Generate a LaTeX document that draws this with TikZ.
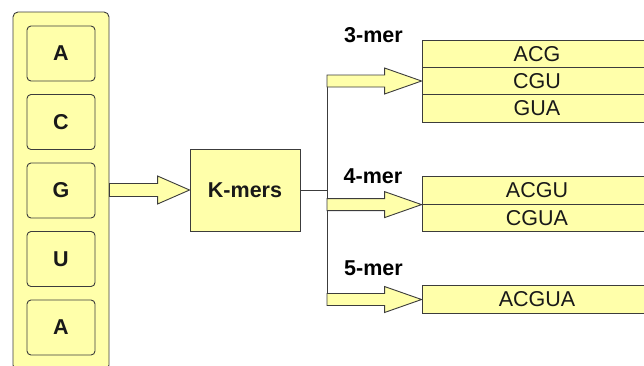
\documentclass[tikz,border=0pt]{standalone}
\usepackage{fontspec}
\setmainfont{Liberation Sans}
\usetikzlibrary{calc}
\definecolor{boxfill}{RGB}{255,255,170}
\definecolor{boxline}{RGB}{60,60,60}
\definecolor{txt}{RGB}{25,25,25}
\tikzset{
  base/.style={draw=boxline, fill=boxfill, line width=0.9pt, inner sep=0pt, text=txt,
    font=\fontsize{21.5}{24}\selectfont},
  outerbox/.style={base, rounded corners=5pt, minimum width=96pt, minimum height=358pt},
  letterbox/.style={base, rounded corners=4pt, minimum width=68pt, minimum height=55pt,
    font=\fontsize{21.5}{24}\selectfont\bfseries},
  kbox/.style={base, minimum width=110pt, minimum height=82pt,
    font=\fontsize{21.5}{24}\selectfont\bfseries},
  rowbox/.style={base, minimum width=230pt, minimum height=27.3pt},
  merlabel/.style={inner sep=0pt, text=black, font=\fontsize{21.5}{24}\selectfont\bfseries},
  conn/.style={draw=boxline, line width=0.9pt},
  blockarrow/.style={draw=boxline, fill=boxfill, line width=0.9pt, line join=miter}
}
\newcommand{\blockarr}[5]{%
  \draw[blockarrow] ($(#1)+(0,-#4)$) -- ($(#2)+(-#3,-#4)$) -- ($(#2)+(-#3,-#5)$) -- (#2)
    -- ($(#2)+(-#3,#5)$) -- ($(#2)+(-#3,#4)$) -- ($(#1)+(0,#4)$) -- cycle;}
\begin{document}
\begin{tikzpicture}[x=1pt,y=-1pt]
\useasboundingbox (0,0) rectangle (644,365);
\clip (0,0) rectangle (644,365);
% left sequence
\node[outerbox] (seq) at (61,191) {};
\node[letterbox] (l1) at (61,53.5) {A};
\node[letterbox] (l2) at (61,122) {C};
\node[letterbox] (l3) at (61,190.5) {G};
\node[letterbox] (l4) at (61,259) {U};
\node[letterbox] (l5) at (61,327.5) {A};
% K-mers
\node[kbox] (kmers) at (245,190) {K-mers};
% rows
\node[rowbox] (r31) at (537,53.6) {ACG};
\node[rowbox] (r32) at (537,81) {CGU};
\node[rowbox] (r33) at (537,108.4) {GUA};
\node[rowbox] (r41) at (537,190.5) {ACGU};
\node[rowbox] (r42) at (537,217.8) {CGUA};
\node[rowbox] (r51) at (537,299.5) {ACGUA};
% labels
\node[merlabel] (m3) at (373.5,35) {3-mer};
\node[merlabel] (m4) at (373,176) {4-mer};
\node[merlabel] (m5) at (373.5,268.5) {5-mer};
% connectors
\coordinate (branch) at (327,190);
\coordinate (s1) at (seq.east |- kmers.west);
\blockarr{s1}{kmers.west}{32}{6.5}{14}
\draw[conn] (kmers.east) -- (branch);
\draw[conn] ($(branch |- r32.west)+(0,-6)$) -- ($(branch |- r51.west)+(0,6)$);
\coordinate (s3) at (branch |- r32.west);
\coordinate (s4) at (branch |- r41.south west);
\coordinate (s5) at (branch |- r51.west);
\blockarr{s3}{r32.west}{37}{6}{13}
\blockarr{s4}{r41.south west}{37}{6}{13}
\blockarr{s5}{r51.west}{37}{6}{13}
\end{tikzpicture}
\end{document}
